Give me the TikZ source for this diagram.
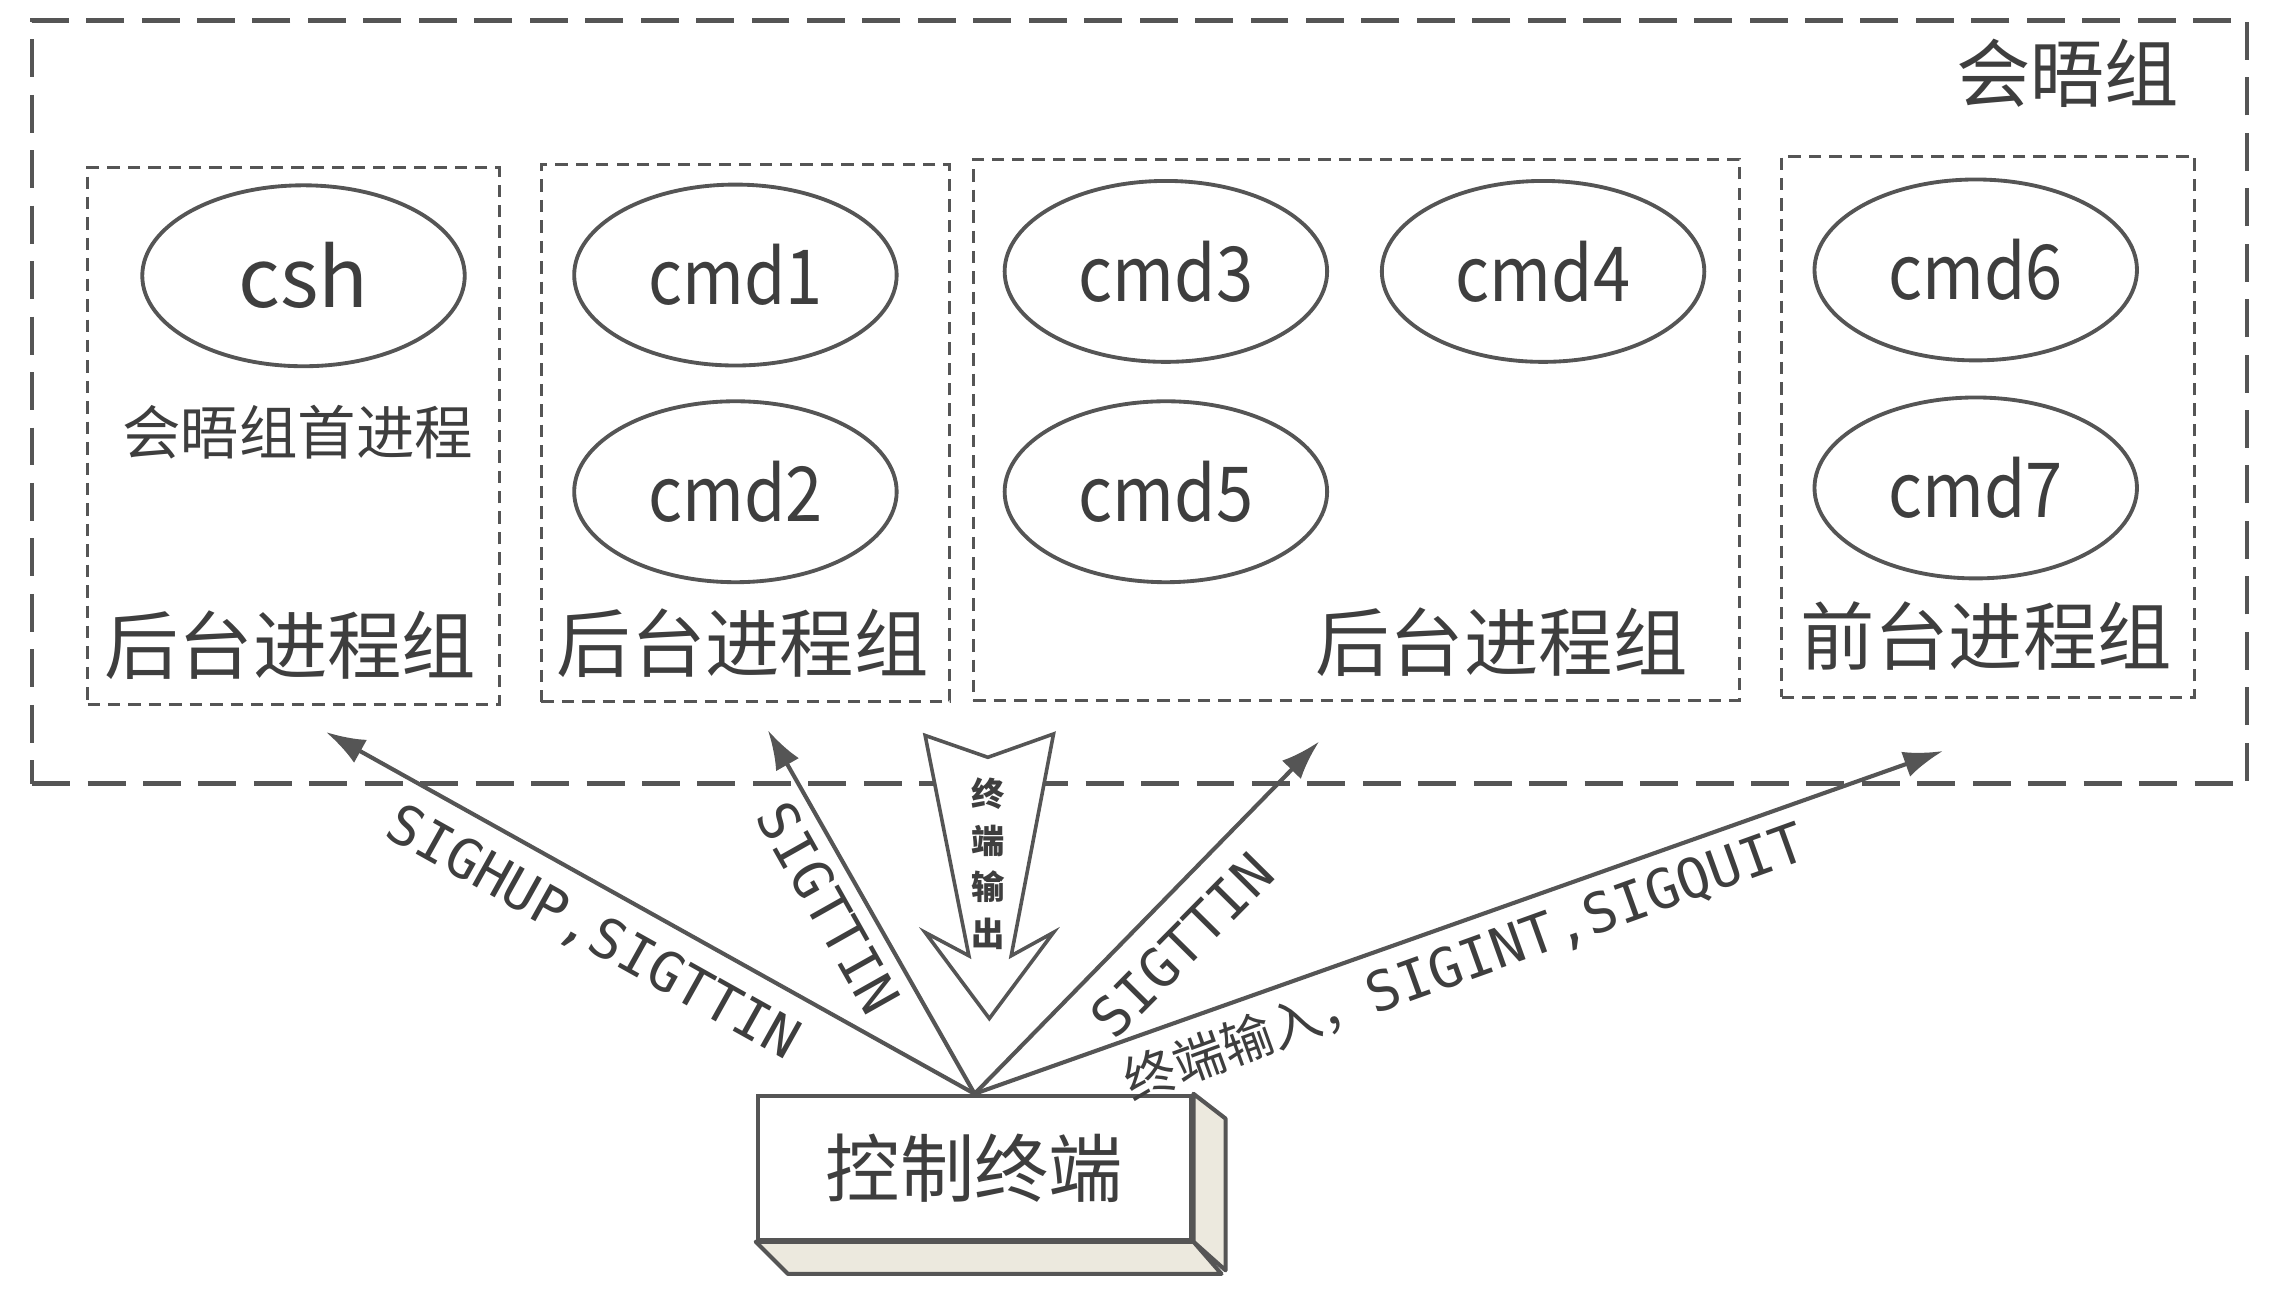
\documentclass[tikz,border=0pt]{standalone}
\usepackage{fontspec}
\setmainfont{Noto Sans CJK SC}
\newfontfamily\procfont[FakeStretch=0.88]{Noto Sans CJK SC}
\newfontfamily\sigmono{DejaVu Sans Mono}
\usetikzlibrary{shapes.geometric,arrows.meta}
\definecolor{ink}{RGB}{85,85,85}
\definecolor{txt}{RGB}{62,62,62}
\definecolor{side}{RGB}{236,233,222}
\begin{document}
\begin{tikzpicture}[x=0.1mm,y=-0.1mm,
  outerbox/.style={draw=ink, line width=0.9pt, dash pattern=on 2.6mm off 1.2mm, inner sep=0},
  grpbox/.style={draw=ink, line width=0.6pt, dash pattern=on 0.85mm off 0.55mm, inner sep=0},
  proc/.style={ellipse, draw=ink, line width=0.75pt, minimum width=22.1mm, minimum height=12.4mm, inner sep=0, text=txt, font=\procfont\fontsize{14.8}{16}\selectfont},
  grplabel/.style={text=txt, font=\fontsize{14.5}{16}\selectfont, inner sep=0},
  sig/.style={draw=ink, line width=0.8pt, -{Latex[length=2.7mm,width=1.8mm]}},
  siglabel/.style={text=txt, font=\sigmono\fontsize{10.7}{12}\selectfont, inner sep=0},
]
\useasboundingbox (0,0) rectangle (1568,885.4);
% session
\node[outerbox, minimum width=151.8mm, minimum height=52.3mm] (sess) at (781,275.5) {};
\node[grplabel] (sesslabel) at (1417,50) {会晤组};
% groups
\node[grpbox, minimum width=28.2mm, minimum height=36.8mm] (g1) at (201,299) {};
\node[grpbox, minimum width=28.0mm, minimum height=36.8mm] (g2) at (511,297) {};
\node[grpbox, minimum width=52.5mm, minimum height=37.1mm] (g3) at (929.5,294.5) {};
\node[grpbox, minimum width=28.3mm, minimum height=37.1mm] (g4) at (1362.5,292.5) {};
\node[grplabel] (l1) at (199,442) {后台进程组};
\node[grplabel] (l2) at (509,441) {后台进程组};
\node[grplabel] (l3) at (1029,440) {后台进程组};
\node[grplabel] (l4) at (1361,436) {前台进程组};
% processes
\node[proc, font=\fontsize{16}{18}\selectfont] (csh) at (208,189) {csh};
\node[text=txt, font=\fontsize{11.4}{13}\selectfont, inner sep=0] (leader) at (204,296) {会晤组首进程};
\node[proc] (cmd1) at (504,188.5) {cmd1};
\node[proc] (cmd2) at (504,337) {cmd2};
\node[proc] (cmd3) at (799,186) {cmd3};
\node[proc] (cmd4) at (1057.5,186) {cmd4};
\node[proc] (cmd5) at (799,337) {cmd5};
\node[proc] (cmd6) at (1354,185) {cmd6};
\node[proc] (cmd7) at (1354,334.4) {cmd7};
% terminal
\node[draw=ink, line width=0.8pt, fill=white, minimum width=29.72mm, minimum height=9.86mm, inner sep=0, text=txt, font=\fontsize{14.5}{16}\selectfont] (term) at (667.9,800.3) {控制终端};
\draw[draw=ink, fill=side, line width=0.8pt, line join=round] (term.north east) -- ++(22,17) -- ++(0,104) -- (term.south east) -- cycle;
\draw[draw=ink, fill=side, line width=0.8pt, line join=round] (term.south west) -- ++(22,22) -- ++(297.2,0) -- (term.south east) -- cycle;
% arrow tips
\coordinate (t1) at (223.4,501.7);
\coordinate (t2) at (526.3,500.5);
\coordinate (t3) at (904,508.2);
\coordinate (t4) at (1331.5,514.7);
\draw[sig] (term.north) -- (t1);
\draw[sig] (term.north) -- (t2);
\draw[sig] (term.north) -- (t3);
\draw[sig] (term.north) -- (t4);
\node[siglabel, rotate=-29.2] (s1) at (406,640) {SIGHUP,SIGTTIN};
\node[siglabel, rotate=-60.6] (s2) at (568,622) {SIGTTIN};
\node[siglabel, rotate=45.3] (s3) at (810,648) {SIGTTIN};
\node[siglabel, rotate=19.8] (s4) at (1004,660) {{\rmfamily\fontsize{10}{12}\selectfont 终端输入，}SIGINT,SIGQUIT};
% hollow output arrow
\draw[draw=ink, fill=white, line width=0.7pt, line join=miter] (634,504) -- (677,519) -- (722,503) -- (693,655) -- (722,639) -- (678,698) -- (634,639) -- (664,655) -- cycle;
\node[text=txt, font=\bfseries\fontsize{6.5}{9.1}\selectfont, align=center, inner sep=0] (outlabel) at (677,592) {终\\端\\输\\出};
\end{tikzpicture}
\end{document}
